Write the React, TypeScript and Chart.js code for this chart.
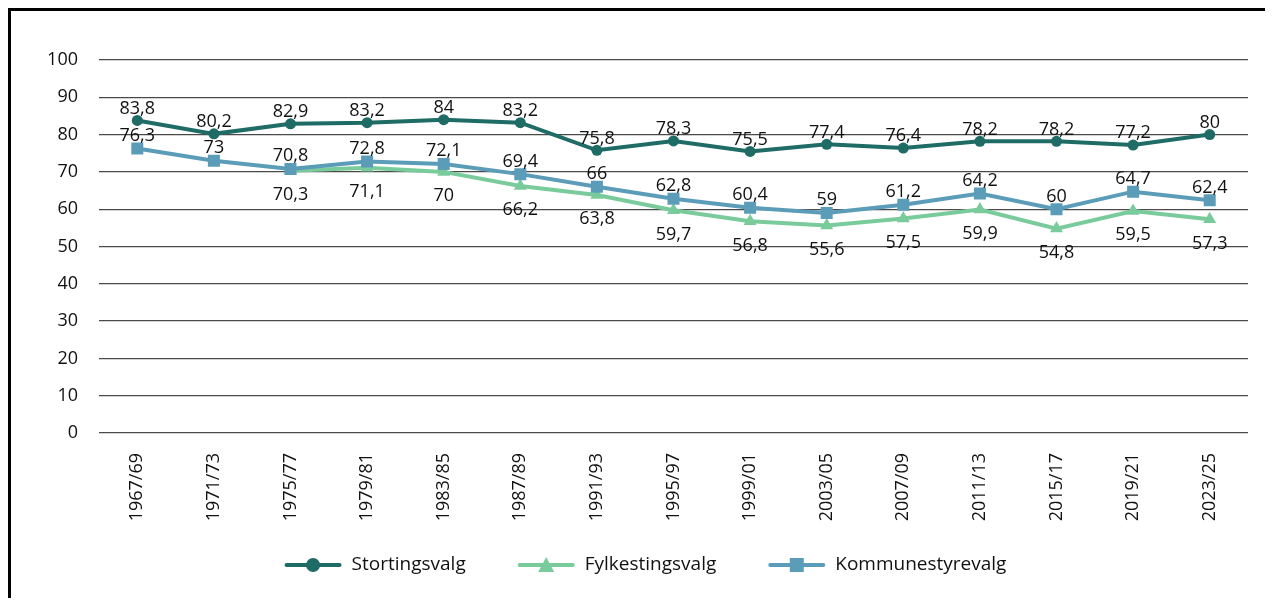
import React, { useEffect, useRef } from "react";
import { Chart, registerables } from "chart.js";

Chart.register(...registerables);

const categories = [
  "1967/69", "1971/73", "1975/77", "1979/81", "1983/85", "1987/89", "1991/93",
  "1995/97", "1999/01", "2003/05", "2007/09", "2011/13", "2015/17", "2019/21", "2023/25",
];
const stortingsvalg = [83.8, 80.2, 82.9, 83.2, 84, 83.2, 75.8, 78.3, 75.5, 77.4, 76.4, 78.2, 78.2, 77.2, 80];
const fylkestingsvalg = [null, null, 70.3, 71.1, 70, 66.2, 63.8, 59.7, 56.8, 55.6, 57.5, 59.9, 54.8, 59.5, 57.3];
const kommunestyrevalg = [76.3, 73, 70.8, 72.8, 72.1, 69.4, 66, 62.8, 60.4, 59, 61.2, 64.2, 60, 64.7, 62.4];
const seriesNames = ["Stortingsvalg", "Fylkestingsvalg", "Kommunestyrevalg"];

const COLORS = ["#1f6b66", "#7acb9c", "#5b9db9"];
const SHAPES = ["circle", "triangle", "rect"];
const FONT = "'Open Sans', 'Noto Sans', sans-serif";

function drawMarker(ctx: CanvasRenderingContext2D, shape: string, cx: number, cy: number) {
  ctx.beginPath();
  if (shape === "circle") {
    ctx.arc(cx, cy, 7, 0, Math.PI * 2);
  } else if (shape === "triangle") {
    ctx.moveTo(cx, cy - 8);
    ctx.lineTo(cx + 8, cy + 7);
    ctx.lineTo(cx - 8, cy + 7);
    ctx.closePath();
  } else {
    ctx.rect(cx - 7, cy - 7, 14, 14);
  }
  ctx.fill();
}

const labelOffsets = [-6.6, 29.4, -7.6];

const dataLabelPlugin = {
  id: "dataLabels",
  afterDatasetsDraw(chart: any) {
    const ctx = chart.ctx;
    ctx.save();
    ctx.font = `18px ${FONT}`;
    ctx.fillStyle = "#111";
    ctx.textAlign = "center";
    ctx.textBaseline = "alphabetic";
    chart.data.datasets.forEach((ds: any, di: number) => {
      const meta = chart.getDatasetMeta(di);
      meta.data.forEach((pt: any, i: number) => {
        const v = ds.data[i];
        if (v === null || v === undefined) return;
        const txt = String(v).replace(".", ",");
        ctx.fillText(txt, pt.x, pt.y + labelOffsets[di]);
      });
    });
    ctx.restore();
  },
};

const LINE_W = 57;
const TEXT_GAP = 10;
const ITEM_GAP = 52;

const customLegendPlugin = {
  id: "customLegend",
  afterDraw(chart: any) {
    const ctx = chart.ctx;
    ctx.save();
    ctx.font = `19px ${FONT}`;
    const widths = seriesNames.map((n) => ctx.measureText(n).width);
    const total =
      widths.reduce((a, w) => a + LINE_W + TEXT_GAP + w, 0) + ITEM_GAP * (seriesNames.length - 1);
    const centerX = chart.width / 2 + 3.5;
    const y = chart.height - 33;
    let x = centerX - total / 2;
    seriesNames.forEach((name, i) => {
      ctx.strokeStyle = COLORS[i];
      ctx.fillStyle = COLORS[i];
      ctx.lineWidth = 4;
      ctx.lineCap = "round";
      ctx.beginPath();
      ctx.moveTo(x + 2, y);
      ctx.lineTo(x + LINE_W - 2, y);
      ctx.stroke();
      drawMarker(ctx, SHAPES[i], x + LINE_W / 2, y);
      ctx.fillStyle = "#111";
      ctx.textAlign = "left";
      ctx.textBaseline = "middle";
      ctx.fillText(name, x + LINE_W + TEXT_GAP, y);
      x += LINE_W + TEXT_GAP + widths[i] + ITEM_GAP;
    });
    ctx.restore();
  },
};

export default function App() {
  const ref = useRef<HTMLCanvasElement | null>(null);
  useEffect(() => {
    if (!ref.current) return;
    const chart = new Chart(ref.current, {
      type: "line",
      data: {
        labels: categories,
        datasets: [
          {
            label: seriesNames[0],
            data: stortingsvalg,
            borderColor: COLORS[0],
            backgroundColor: COLORS[0],
            borderWidth: 4,
            pointStyle: "circle",
            pointRadius: 5.5,
            pointBorderWidth: 0,
            tension: 0,
            order: 0,
          },
          {
            label: seriesNames[1],
            data: fylkestingsvalg,
            borderColor: COLORS[1],
            backgroundColor: COLORS[1],
            borderWidth: 4,
            pointStyle: "triangle",
            pointRadius: 7.5,
            pointBorderWidth: 0,
            tension: 0,
            order: 2,
          },
          {
            label: seriesNames[2],
            data: kommunestyrevalg,
            borderColor: COLORS[2],
            backgroundColor: COLORS[2],
            borderWidth: 4,
            pointStyle: "rect",
            pointRadius: 8.5,
            pointBorderWidth: 0,
            tension: 0,
            order: 1,
          },
        ],
      },
      options: {
        animation: false,
        responsive: true,
        maintainAspectRatio: false,
        layout: { padding: { top: 49, left: 32, right: 25, bottom: 75 } },
        scales: {
          x: {
            offset: true,
            grid: { display: false, drawTicks: false, offset: true },
            border: { display: false },
            ticks: {
              autoSkip: false,
              maxRotation: 90,
              minRotation: 90,
              padding: 20,
              color: "#111",
              font: { family: FONT, size: 18 },
            },
            afterFit: (s: any) => {
              s.height = 90;
            },
          },
          y: {
            min: 0,
            max: 100,
            grid: { color: "#4a4a4a", lineWidth: 1.2, drawTicks: false },
            border: { display: false },
            ticks: {
              stepSize: 10,
              padding: 21,
              color: "#111",
              font: { family: FONT, size: 18 },
            },
            afterFit: (s: any) => {
              s.width = 56;
            },
          },
        },
        plugins: {
          legend: { display: false },
          tooltip: { enabled: false },
        },
      },
      plugins: [dataLabelPlugin, customLegendPlugin],
    });
    return () => chart.destroy();
  }, []);

  return (
    <div
      style={{
        width: 1265,
        height: 590,
        boxSizing: "border-box",
        borderTop: "3px solid #000",
        borderLeft: "3px solid #000",
        background: "#fff",
      }}
    >
      <div style={{ position: "relative", width: 1262, height: 587 }}>
        <canvas ref={ref} />
      </div>
    </div>
  );
}
